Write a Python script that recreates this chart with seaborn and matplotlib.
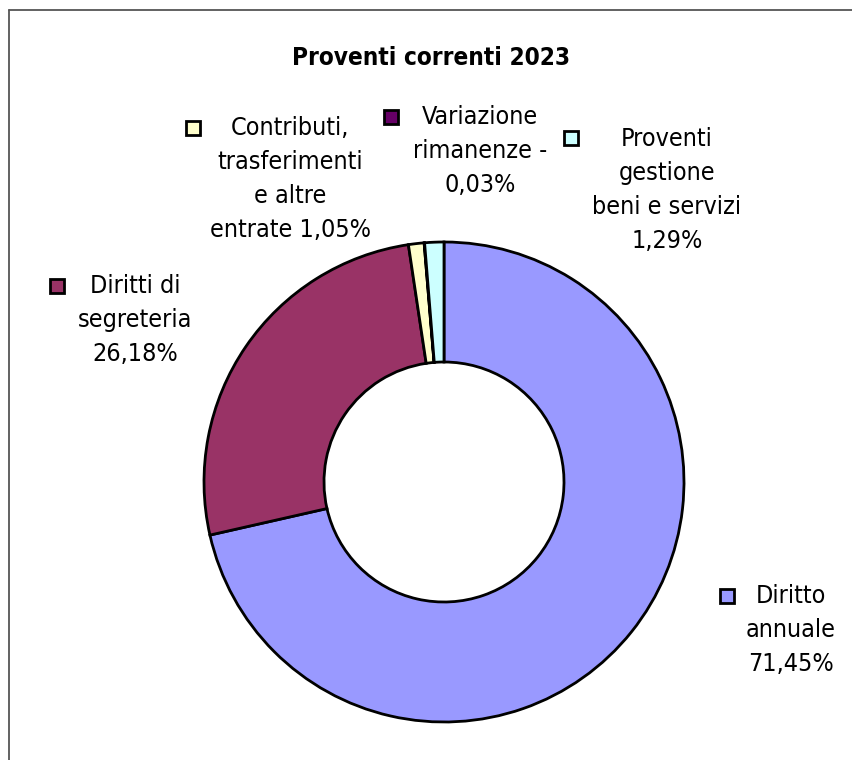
import matplotlib
matplotlib.use("Agg")
import matplotlib.pyplot as plt
from matplotlib.patches import Rectangle
from matplotlib.lines import Line2D
import seaborn as sns

# Revenue items (percent of total current revenue, 2023)
categories = [
    "Diritto\nannuale",
    "Diritti di\nsegreteria",
    "Contributi,\ntrasferimenti\ne altre\nentrate",
    "Variazione\nrimanenze",
    "Proventi\ngestione\nbeni e servizi",
]
values = [71.45, 26.18, 1.05, -0.03, 1.29]
colors = ["#9999FF", "#993366", "#FFFFCC", "#660066", "#CCFFFF"]
title = "Proventi correnti 2023"

# Label layout: first-line centre (px), legend key centre (px),
# and whether the value goes on its own line
label_pos = [(791, 596), (135, 286), (290, 128), (480, 117), (667, 139)]
key_pos = [(727, 596), (57, 286), (193, 128), (391, 117), (571, 138)]
value_new_line = [True, True, False, True, True]

sns.set_theme(style="white")
plt.rcParams["font.family"] = ["DejaVu Sans"]

W, H = 852, 760
fig = plt.figure(figsize=(W / 100, H / 100), dpi=100)
fig.patch.set_facecolor("white")

# Frame lines (only top/left edges fall inside the canvas)
fig.add_artist(Line2D([9 / W, 1.0], [1 - 10 / H, 1 - 10 / H], transform=fig.transFigure,
                      color="#555555", lw=1.3))
fig.add_artist(Line2D([9 / W, 9 / W], [0.0, 1 - 10 / H], transform=fig.transFigure,
                      color="#555555", lw=1.3))

# Donut
cx, cy, r = 444, 482, 240
ax = fig.add_axes([(cx - r) / W, (H - cy - r) / H, 2 * r / W, 2 * r / H])
sizes = [abs(v) for v in values]
ax.pie(sizes, colors=colors, startangle=90, counterclock=False, radius=1.0,
       wedgeprops=dict(width=0.5, edgecolor="black", linewidth=2.0))
ax.set_xlim(-1, 1)
ax.set_ylim(-1, 1)
ax.set_aspect("equal")
ax.axis("off")

fig.text(431 / W, 1 - 58 / H, title, ha="center", va="center",
         fontsize=17.5, fontweight="bold", fontstretch="condensed", color="black")


def fmt(v):
    return f"{abs(v):.2f}".replace(".", ",") + "%"


fs = 18
line_px = 34
for name, v, (x, y), nl in zip(categories, values, label_pos, value_new_line):
    lines = name.split("\n")
    if v < 0:
        lines[-1] += " -"
    if nl:
        lines.append(fmt(v))
    else:
        lines[-1] += " " + fmt(v)
    for i, ln in enumerate(lines):
        fig.text(x / W, 1 - (y + i * line_px) / H, ln, ha="center", va="center",
                 fontsize=fs, fontstretch="condensed", color="black")

# Legend keys next to each label
s = 14
for col, (kx, ky) in zip(colors, key_pos):
    fig.add_artist(Rectangle(((kx - s / 2) / W, 1 - (ky + s / 2) / H), s / W, s / H,
                             transform=fig.transFigure, facecolor=col,
                             edgecolor="black", linewidth=2.0))

fig.savefig("out.png", dpi=100, facecolor="white")
